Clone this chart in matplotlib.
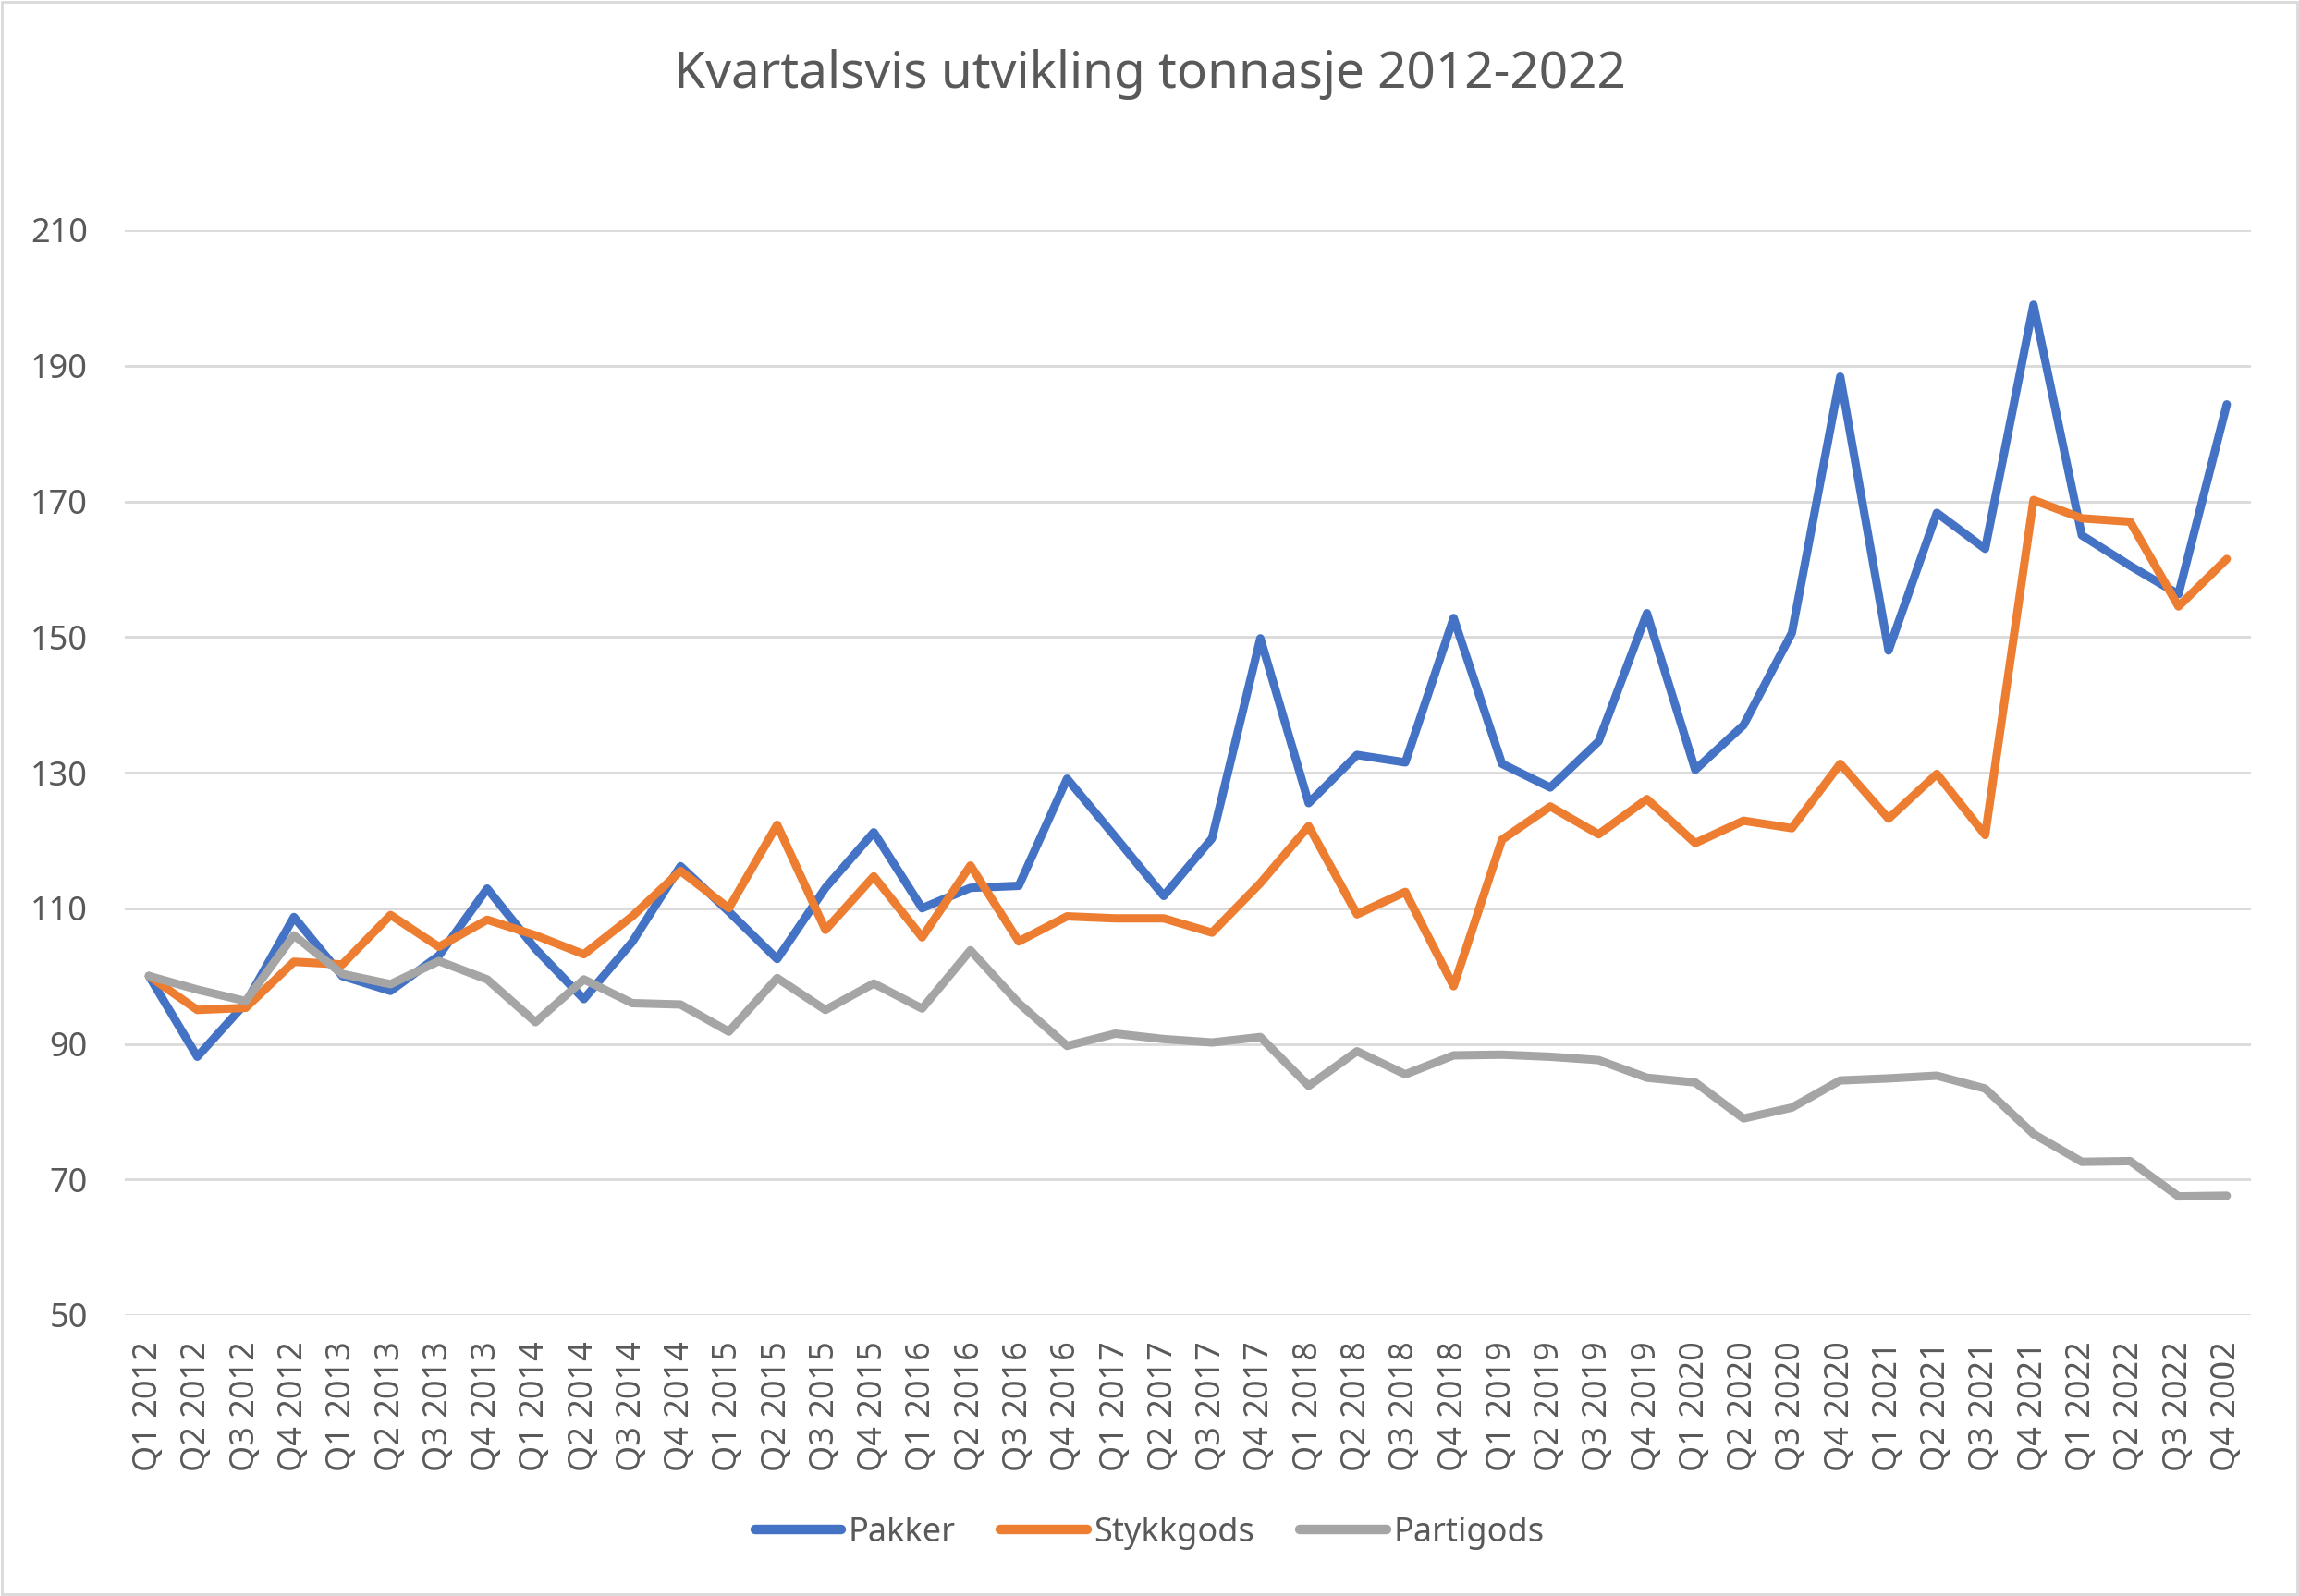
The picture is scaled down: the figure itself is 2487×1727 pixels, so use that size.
import matplotlib
matplotlib.use("Agg")
import matplotlib.pyplot as plt
from matplotlib.patches import Rectangle

quarters = ["Q1 2012", "Q2 2012", "Q3 2012", "Q4 2012",
            "Q1 2013", "Q2 2013", "Q3 2013", "Q4 2013",
            "Q1 2014", "Q2 2014", "Q3 2014", "Q4 2014",
            "Q1 2015", "Q2 2015", "Q3 2015", "Q4 2015",
            "Q1 2016", "Q2 2016", "Q3 2016", "Q4 2016",
            "Q1 2017", "Q2 2017", "Q3 2017", "Q4 2017",
            "Q1 2018", "Q2 2018", "Q3 2018", "Q4 2018",
            "Q1 2019", "Q2 2019", "Q3 2019", "Q4 2019",
            "Q1 2020", "Q2 2020", "Q3 2020", "Q4 2020",
            "Q1 2021", "Q2 2021", "Q3 2021", "Q4 2021",
            "Q1 2022", "Q2 2022", "Q3 2022", "Q4 2002"]

pakker = [100, 88.1, 96, 108.7, 100, 97.8, 103, 112.9,
          104, 96.6, 105, 116.2, 109.5, 102.5, 113, 121.2,
          110, 113, 113.3, 129.1, 120.5, 111.8, 120.3, 149.8,
          125.5, 132.6, 131.5, 152.8, 131.3, 127.8, 134.6, 153.5,
          130.4, 137, 150.6, 188.4, 148, 168.3, 163, 199,
          165, 160.5, 156.3, 184.3]

stykkgods = [100, 95, 95.3, 102.1, 101.7, 109, 104.3, 108.3,
             106, 103.2, 108.8, 115.5, 110, 122.3, 106.8, 114.7,
             105.7, 116.3, 105.1, 108.8, 108.5, 108.5, 106.4, 113.7,
             122.1, 109.1, 112.4, 98.5, 120.1, 125, 120.9, 126.1,
             119.6, 122.9, 121.8, 131.3, 123.2, 129.8, 120.8, 170.2,
             167.5, 167, 154.5, 161.5]

partigods = [100, 98, 96.3, 106, 100.3, 98.8, 102.2, 99.5,
             93.2, 99.5, 96, 95.8, 91.8, 99.7, 95, 98.9,
             95.2, 103.8, 96, 89.7, 91.5, 90.7, 90.2, 91,
             83.8, 88.9, 85.5, 88.3, 88.4, 88.1, 87.6, 85,
             84.3, 79, 80.6, 84.6, 84.9, 85.3, 83.4, 76.7,
             72.6, 72.7, 67.5, 67.6]

plt.rcParams['font.family'] = ['Noto Sans', 'DejaVu Sans']
text_col = '#595959'

fig = plt.figure(figsize=(24.87, 17.27), dpi=100)
ax = fig.add_axes([135 / 2487, 1 - 1423 / 1727, 2300 / 2487, (1423 - 249) / 1727])

x = range(len(quarters))
style = dict(lw=6.5, solid_joinstyle='round', solid_capstyle='round')
ax.plot(x, pakker, color='#4472C4', label='Pakker', **style)
ax.plot(x, stykkgods, color='#ED7D31', label='Stykkgods', **style)
ax.plot(x, partigods, color='#A5A5A5', label='Partigods', **style)

ax.set_xlim(-0.5, len(quarters) - 0.5)
ax.set_ylim(50, 210)
ax.set_yticks(range(50, 211, 20))
ax.set_xticks(list(x))
ax.set_xticklabels(quarters, rotation=90)
ax.tick_params(axis='both', length=0, labelsize=26, colors=text_col)
ax.tick_params(axis='y', pad=29)
ax.tick_params(axis='x', pad=20)
ax.grid(axis='y', color='#D9D9D9', lw=2)
ax.set_axisbelow(True)
for s in ax.spines.values():
    s.set_visible(False)

fig.text(0.5, 1 - 80 / 1727, 'Kvartalsvis utvikling tonnasje 2012-2022',
         ha='center', va='center', fontsize=39.5, color=text_col)

leg = fig.legend(loc='center', bbox_to_anchor=(0.5, 1 - 1659 / 1727), ncol=3,
                 frameon=False, fontsize=26, handlelength=2.6, handletextpad=0.2,
                 columnspacing=1.35)
for t in leg.get_texts():
    t.set_color(text_col)
for h in leg.get_lines():
    h.set_linewidth(7.5)
    h.set_solid_capstyle('round')

fig.patches.append(Rectangle((0.001, 0.001), 0.998, 0.998, transform=fig.transFigure,
                             fill=False, edgecolor='#D9D9D9', lw=2))

fig.savefig('out.png', dpi=100, facecolor='white')
